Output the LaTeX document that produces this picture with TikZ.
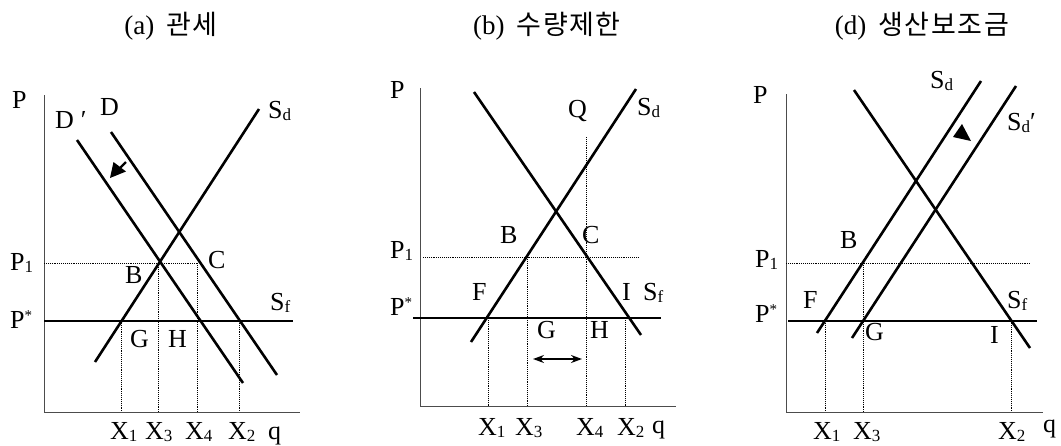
\documentclass[tikz,border=0pt]{standalone}
\usepackage{fontspec}
\setmainfont{Liberation Serif}
\newfontfamily\krfont[LetterSpace=6]{Noto Sans CJK KR}
\usetikzlibrary{arrows.meta}
\newcommand\lsub[1]{\raisebox{-2.5pt}{\fontsize{17}{17}\selectfont #1}}
\newcommand\lsup[1]{\raisebox{8pt}{\fontsize{15}{15}\selectfont #1}}
\begin{document}
\begin{tikzpicture}[x=1pt,y=-1pt,
  lbl/.style={inner sep=0pt, anchor=base west, font=\fontsize{26}{28}\selectfont},
  ttl/.style={inner sep=0pt, anchor=base, font=\fontsize{27}{29}\selectfont},
  curve/.style={line width=2.6pt},
  axisline/.style={line width=1pt, black!70},
  guide/.style={line width=0.9pt, densely dotted}]
\useasboundingbox (0,0) rectangle (1061,445);

% ---------- titles ----------
\node[ttl] (ta) at (171,34) {(a)\hspace{12pt}{\krfont 관세}};
\node[ttl] (tb) at (547,34) {(b)\hspace{12pt}{\krfont 수량제한}};
\node[ttl] (td) at (922,34) {(d)\hspace{12pt}{\krfont 생산보조금}};

% ---------- panel (a) ----------
\draw[axisline] (44,95) -- (44,412) -- (300,412);
\draw[guide] (44,263) -- (197,263);
\draw[guide] (121,321) -- (121,412);
\draw[guide] (158,263) -- (158,412);
\draw[guide] (197,263) -- (197,412);
\draw[guide] (239,321) -- (239,412);
\draw[curve] (77,140) -- (243,383);
\draw[curve] (111,132) -- (277,375);
\draw[curve] (95,362) -- (259,109);
\draw[curve] (44,321) -- (293,321);
\draw[line width=2.2pt] (126,162) -- (118,170);
\fill (110,178) -- (113.5,162) -- (126,171.5) -- cycle;

\node[lbl] (aP) at (12,108) {P};
\node[lbl] (aDp) at (55,128) {D\hspace{7pt}′};
\node[lbl] (aD) at (100,115) {D};
\node[lbl] (aSd) at (268,118) {S\lsub{d}};
\node[lbl] (aC) at (208,268) {C};
\node[lbl] (aP1) at (10,270) {P\lsub{1}};
\node[lbl] (aB) at (125,283) {B};
\node[lbl] (aSf) at (270,310) {S\lsub{f}};
\node[lbl] (aPs) at (10,328) {P\lsup{*}};
\node[lbl] (aG) at (130,347) {G};
\node[lbl] (aH) at (168,347) {H};
\node[lbl] (aX1) at (110,439) {X\lsub{1}};
\node[lbl] (aX3) at (145,439) {X\lsub{3}};
\node[lbl] (aX4) at (185,439) {X\lsub{4}};
\node[lbl] (aX2) at (228,439) {X\lsub{2}};
\node[lbl] (aq) at (268,439) {q};

% ---------- panel (b) ----------
\draw[axisline] (420,88) -- (420,406) -- (676,406);
\draw[guide] (423,257) -- (639,257);
\draw[guide] (488,318) -- (488,406);
\draw[guide] (527,257) -- (527,406);
\draw[guide] (586,137) -- (586,406);
\draw[guide] (625,318) -- (625,406);
\draw[curve] (474,92) -- (641,335);
\draw[curve] (471,342) -- (636,89);
\draw[curve] (413,318) -- (661,318);
\draw[line width=1.4pt, {Stealth[length=11pt,width=8pt]}-{Stealth[length=11pt,width=8pt]}] (533,359) -- (582,359);

\node[lbl] (bP) at (390,98) {P};
\node[lbl] (bQ) at (568,117) {Q};
\node[lbl] (bSd) at (637,115) {S\lsub{d}};
\node[lbl] (bB) at (500,243) {B};
\node[lbl] (bC) at (582,243) {C};
\node[lbl] (bP1) at (390,258) {P\lsub{1}};
\node[lbl] (bF) at (472,300) {F};
\node[lbl] (bI) at (622,300) {I};
\node[lbl] (bSf) at (643,300) {S\lsub{f}};
\node[lbl] (bPs) at (390,315) {P\lsup{*}};
\node[lbl] (bG) at (537,338) {G};
\node[lbl] (bH) at (590,338) {H};
\node[lbl] (bX1) at (478,435) {X\lsub{1}};
\node[lbl] (bX3) at (515,435) {X\lsub{3}};
\node[lbl] (bX4) at (576,435) {X\lsub{4}};
\node[lbl] (bX2) at (617,435) {X\lsub{2}};
\node[lbl] (bq) at (652,433) {q};

% ---------- panel (d) ----------
\draw[axisline] (786,94) -- (786,412) -- (1043,412);
\draw[guide] (786,263) -- (1030,263);
\draw[guide] (825,321) -- (825,412);
\draw[guide] (863,263) -- (863,412);
\draw[guide] (1011,321) -- (1011,412);
\draw[curve] (854,90) -- (1030,348);
\draw[curve] (817,333) -- (981,81);
\draw[curve] (852,338) -- (1016,86);
\draw[curve] (788,321) -- (1037,321);
\fill (962,124) -- (953,137) -- (971,141) -- cycle;

\node[lbl] (dP) at (753,103) {P};
\node[lbl] (dSd) at (930,88) {S\lsub{d}};
\node[lbl] (dSdp) at (1007,130) {S\lsub{d}′};
\node[lbl] (dB) at (840,248) {B};
\node[lbl] (dP1) at (755,267) {P\lsub{1}};
\node[lbl] (dF) at (803,308) {F};
\node[lbl] (dSf) at (1007,308) {S\lsub{f}};
\node[lbl] (dPs) at (755,322) {P\lsup{*}};
\node[lbl] (dG) at (865,340) {G};
\node[lbl] (dI) at (990,343) {I};
\node[lbl] (dX1) at (813,439) {X\lsub{1}};
\node[lbl] (dX3) at (853,439) {X\lsub{3}};
\node[lbl] (dX2) at (998,439) {X\lsub{2}};
\node[lbl] (dq) at (1043,432) {q};
\end{tikzpicture}
\end{document}
